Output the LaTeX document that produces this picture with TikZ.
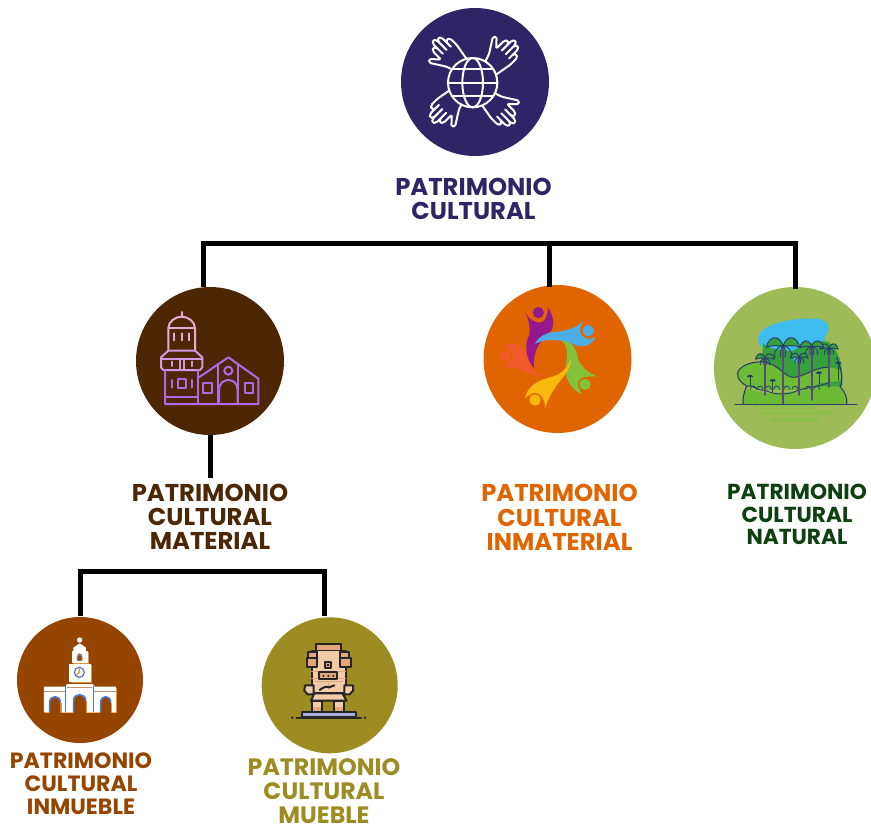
\documentclass[tikz,border=0pt]{standalone}
\usepackage{fontspec}
\setmainfont{Poppins}
\definecolor{cTop}{HTML}{2F2466}
\definecolor{cMat}{HTML}{4D2604}
\definecolor{cInm}{HTML}{E06500}
\definecolor{cNat}{HTML}{9FBB58}
\definecolor{cNatT}{HTML}{0F4010}
\definecolor{cInb}{HTML}{964500}
\definecolor{cMue}{HTML}{9C8C22}
\definecolor{bPink}{HTML}{EBAAD6}
\definecolor{bMid}{HTML}{D596E6}
\definecolor{bPur}{HTML}{B268EA}
\definecolor{navy}{HTML}{2B3F6B}
\definecolor{skin}{HTML}{F2CBA8}
\definecolor{skinD}{HTML}{E3A67C}
\definecolor{pPur}{HTML}{95198D}
\definecolor{pBlu}{HTML}{4CAEE6}
\definecolor{pGre}{HTML}{83C13B}
\definecolor{pYel}{HTML}{FBB90F}
\definecolor{pRed}{HTML}{F15A2A}
\definecolor{nLake}{HTML}{3DBDF0}
\definecolor{nDark}{HTML}{35A03C}
\definecolor{nLight}{HTML}{6DBB35}
\definecolor{nGround}{HTML}{8CC04A}
\definecolor{nTrunk}{HTML}{5A4A78}
\definecolor{shB}{HTML}{4E78C8}
\definecolor{shO}{HTML}{E8913A}
\tikzset{
 x=1pt,y=-1pt,
 disc/.style={circle,inner sep=0pt,minimum size=#1,draw=none},
 lab/.style={align=center,font=\fontsize{#1}{#1}\selectfont\bfseries,inner sep=0pt,anchor=center},
 conn/.style={draw=black,line width=5pt,line cap=butt,line join=miter},
 icon/.style={line cap=round,line join=round},
 handln/.style={icon,draw=white,line width=2pt},
 bld/.style={icon,line width=2pt},
}
\newcommand{\handshape}{%
 \draw[handln,rounded corners=1.5pt] (24,18) -- (34,-38) -- (34,-66) -- (26,-74) -- (18,-66) -- (18,-44)
 -- (18,-86) -- (10,-95) -- (2,-86) -- (2,-46) -- (2,-92) -- (-6,-101) -- (-14,-92) -- (-14,-46)
 -- (-14,-76) -- (-22,-85) -- (-30,-76) -- (-30,-42) -- (-54,-68) -- (-62,-60) -- (-34,-16) -- (-24,14);
}
\newcommand{\palmtree}[4]{% x, y top, y bottom, size
 \draw[draw=nTrunk,line width=1.9pt,line cap=round] (#1,#2) -- (#1,#3);
 \draw[icon,draw=navy,line width=1pt,fill=nDark] (#1,#2)
   .. controls (#1-#4*.3,#2-#4*.9) and (#1-#4,#2-#4*.7) .. (#1-#4*1.2,#2+#4*.1)
   .. controls (#1-#4*.8,#2-#4*.1) and (#1-#4*.4,#2) .. (#1,#2)
   .. controls (#1+#4*.4,#2) and (#1+#4*.8,#2-#4*.1) .. (#1+#4*1.2,#2+#4*.1)
   .. controls (#1+#4,#2-#4*.7) and (#1+#4*.3,#2-#4*.9) .. (#1,#2) -- cycle;
 \draw[icon,draw=navy,line width=.9pt] (#1,#2) .. controls (#1-#4*.6,#2+#4*.1) and (#1-#4*.7,#2+#4*.6) .. (#1-#4*.55,#2+#4*.8)
   (#1,#2) .. controls (#1+#4*.6,#2+#4*.1) and (#1+#4*.7,#2+#4*.6) .. (#1+#4*.55,#2+#4*.8)
   (#1,#2) .. controls (#1-#4*.2,#2+#4*.2) and (#1-#4*.2,#2+#4*.6) .. (#1-#4*.15,#2+#4*.8)
   (#1,#2) .. controls (#1+#4*.2,#2+#4*.2) and (#1+#4*.2,#2+#4*.6) .. (#1+#4*.15,#2+#4*.8);
}
\newcommand{\smalltree}[3]{% x, y, bottom
 \draw[navy,line width=.9pt] (#1,#2) -- (#1,#3);
 \fill[navy] (#1-10,#2) .. controls (#1-6,#2-8) and (#1+6,#2-8) .. (#1+10,#2) .. controls (#1+5,#2+3) and (#1-5,#2+3) .. cycle;
}
\begin{document}
\begin{tikzpicture}
\useasboundingbox (0,0) rectangle (871,827);
\fill[white] (0,0) rectangle (871,827);

% discs
\node[disc=148pt,fill=cTop] (top) at (475,82) {};
\node[disc=148pt,fill=cMat] (mat) at (210,361) {};
\node[disc=148pt,fill=cInm] (inm) at (557.5,359) {};
\node[disc=162pt,fill=cNat] (nat) at (795,368) {};
\node[disc=126pt,fill=cInb] (inb) at (80,680) {};
\node[disc=136pt,fill=cMue] (mue) at (329.7,685.3) {};

% labels
\node[lab=24.3,text=cTop] (topT) at (473.5,199) {PATRIMONIO\\[-.3pt]CULTURAL};
\node[lab=24.3,text=cMat] (matT) at (210,517) {PATRIMONIO\\[-.3pt]CULTURAL\\[-.3pt]MATERIAL};
\node[lab=24.3,text=cInm] (inmT) at (559.5,517.5) {PATRIMONIO\\[-.1pt]CULTURAL\\[-.1pt]INMATERIAL};
\node[lab=21.7,text=cNatT] (natT) at (797,514.5) {PATRIMONIO\\[.8pt]CULTURAL\\[.8pt]NATURAL};
\node[lab=22.1,text=cInb] (inbT) at (81,784) {PATRIMONIO\\[.9pt]CULTURAL\\[.9pt]INMUEBLE};
\node[lab=23.7,text=cMue] (mueT) at (324,791) {PATRIMONIO\\[.6pt]CULTURAL\\[.6pt]MUEBLE};

% connectors
\coordinate (busL) at (203,243);
\coordinate (busM) at (549,243);
\coordinate (busR) at (795,243);
\coordinate (matIn) at (203,287);
\coordinate (inmIn) at (549,287);
\coordinate (natIn) at (795,289);
\coordinate (matOut) at (210,435);
\coordinate (matOutE) at (210,478);
\coordinate (subL) at (80,571);
\coordinate (subR) at (324,571);
\coordinate (inbIn) at (80,616);
\coordinate (mueIn) at (324,616);
\draw[conn] (matIn) -- (busL) -- (busR) -- (natIn);
\draw[conn] (busM) -- (inmIn);
\draw[conn] (matOut) -- (matOutE);
\draw[conn] (inbIn) -- (subL) -- (subR) -- (mueIn);

% ---- globe and hands
\begin{scope}[shift={(390,0)},scale=1/3]
 \foreach \a in {0,90,180,270}{
  \begin{scope}[rotate around={\a:(252,245)}]
   \begin{scope}[shift={(204,187)},rotate=45]
    \handshape
   \end{scope}
  \end{scope}
 }
 \fill[cTop] (248,248) circle (76);
 \draw[handln] (248,248) circle (74);
 \draw[handln] (248,248) ellipse (31 and 74);
 \draw[handln] (174,248) -- (322,248);
 \draw[handln] (187,208) -- (309,208) (187,288) -- (309,288);
\end{scope}

% ---- church
\begin{scope}[shift={(125,280)},scale=1/3]
 \draw[bld,draw=bPink] (170,96) -- (170,110);
 \draw[bld,draw=bPink] (130,212) -- (130,145) .. controls (130,125) and (150,110) .. (170,110) .. controls (190,110) and (210,125) .. (210,145) -- (210,212);
 \draw[bld,draw=bPink] (130,145) -- (210,145);
 \draw[bld,draw=bPink] (146,160) -- (146,181) (170,160) -- (170,181) (193,160) -- (193,181);
 \draw[bld,draw=bMid] (130,212) -- (210,212) -- (232,232) -- (232,262) -- (225,270) -- (115,270) -- (108,262) -- (108,232) -- cycle;
 \draw[bld,draw=bMid] (108,238) -- (232,238);
 \draw[bld,draw=bMid] (140,245) -- (140,258) (164,240) -- (164,268) (177,240) -- (177,268) (200,245) -- (200,258);
 \draw[bld,draw=bPur] (120,270) -- (120,372) -- (400,372) -- (400,296) -- (310,232) -- (222,292);
 \draw[bld,draw=bPur] (219,270) -- (219,372) (120,350) -- (219,350);
 \draw[bld,draw=bPur] (158,298) rectangle (183,325);
 \draw[bld,draw=bPur] (140,300) -- (140,323) (200,300) -- (200,323);
 \draw[bld,draw=bPur] (280,252) -- (280,372) (339,252) -- (339,372);
 \draw[bld,draw=bPur] (310,272) circle (12);
 \draw[bld,draw=bPur] (282,372) -- (282,330) .. controls (282,290) and (338,290) .. (338,330) -- (338,372);
 \draw[bld,draw=bPur] (235,310) rectangle (260,340);
 \draw[bld,draw=bPur] (360,310) rectangle (385,340);
\end{scope}

% ---- people
\begin{scope}[shift={(475,280)},scale=1/3]
 \fill[pRed] (212,290) .. controls (170,290) and (125,250) .. (75,265) .. controls (105,255) and (128,225) .. (88,195)
   .. controls (135,182) and (152,205) .. (165,255) .. controls (175,272) and (195,285) .. (212,290) -- cycle;
 \fill[cInm] (92,227) circle (21);
 \fill[pRed] (92,227) circle (16);
 % purple
 \fill[pPur] (150,97) .. controls (165,125) and (200,140) .. (212,115) .. controls (218,105) and (218,95) .. (218,82)
   .. controls (235,105) and (240,135) .. (228,152) .. controls (205,175) and (170,205) .. (178,265)
   .. controls (148,235) and (150,185) .. (163,165) .. controls (166,135) and (160,115) .. (150,97) -- cycle;
 \fill[pPur] (190,98) circle (17);
 % green
 \fill[pGre] (250,175) .. controls (290,178) and (305,205) .. (310,240) .. controls (322,265) and (345,280) .. (367,290)
   .. controls (330,285) and (295,295) .. (320,342) .. controls (285,330) and (262,285) .. (275,240) .. controls (280,205) and (270,185) .. (250,175) -- cycle;
 \fill[cInm] (330,313) circle (21);
 \fill[pGre] (330,313) circle (17);
 % yellow
 \fill[pYel] (288,235) .. controls (292,280) and (235,305) .. (210,385) .. controls (212,345) and (180,325) .. (150,355)
   .. controls (155,320) and (190,300) .. (225,292) .. controls (255,285) and (280,265) .. (288,235) -- cycle;
 \fill[cInm] (180,360) circle (21);
 \fill[pYel] (180,360) circle (17);
 % blue
 \fill[pBlu] (330,112) .. controls (320,140) and (280,150) .. (250,155) .. controls (215,155) and (190,170) .. (180,192)
   .. controls (205,176) and (245,178) .. (285,187) .. controls (315,207) and (345,202) .. (362,172)
   .. controls (340,182) and (315,175) .. (315,150) .. controls (315,135) and (325,125) .. (330,112) -- cycle;
 \fill[cInm] (340,152) circle (21);
 \fill[pBlu] (340,152) circle (17);
\end{scope}

% ---- nature
\begin{scope}[shift={(705,280)},scale=1/3]
 \foreach \px/\py/\w in {240/380/190,275/398/215,270/418/150}{
  \fill[nGround,rounded corners=1.5pt] (\px-\w/2,\py-5) rectangle (\px+\w/2,\py+6);
 }
 \fill[nLake] (160,170) .. controls (170,130) and (270,112) .. (335,116) .. controls (375,120) and (378,150) .. (360,170)
   .. controls (355,190) and (370,200) .. (375,220) -- (200,225) .. controls (170,205) and (155,190) .. (160,170) -- cycle;
 \fill[nDark] (175,190) .. controls (195,215) and (240,205) .. (260,215) .. controls (290,195) and (340,180) .. (370,185)
   .. controls (390,205) and (410,225) .. (412,290) -- (412,320) -- (125,320) -- (170,240) -- cycle;
 \fill[nLake] (262,232) -- (282,218) -- (275,250) -- cycle;
 \fill[nLight] (98,280) .. controls (105,255) and (150,240) .. (190,250) .. controls (230,262) and (245,290) .. (265,290)
   .. controls (300,290) and (330,260) .. (370,262) .. controls (395,265) and (412,265) .. (412,290) .. controls (412,305) and (385,305) .. (345,310)
   -- (300,330) -- (180,330) -- (125,318) .. controls (105,305) and (95,295) .. (98,280) -- cycle;
 \fill[nLight] (125,325) .. controls (115,345) and (112,360) .. (115,372) -- (425,372) .. controls (425,345) and (410,335) .. (405,320) -- (340,320) -- (270,335) -- (180,340) -- cycle;
 \draw[icon,draw=navy,line width=1.1pt] (175,245) .. controls (130,245) and (100,262) .. (98,280) .. controls (95,295) and (110,310) .. (125,318) .. controls (115,340) and (112,360) .. (115,372);
 \draw[icon,draw=navy,line width=1.1pt] (175,245) .. controls (225,255) and (240,292) .. (265,292) .. controls (300,290) and (325,262) .. (370,262);
 \draw[icon,draw=navy,line width=1.1pt] (395,232) .. controls (410,270) and (415,300) .. (405,320) .. controls (420,335) and (428,355) .. (425,372);
 \draw[icon,draw=navy,line width=1pt] (125,318) .. controls (145,312) and (155,335) .. (180,330) .. controls (205,345) and (245,345) .. (270,335) .. controls (300,320) and (340,325) .. (375,305);
 \foreach \sx in {145,165,190,215,245,270,310,335}{
  \draw[icon,draw=navy,line width=.8pt] (\sx-9,328) .. controls (\sx-8,315) and (\sx+8,315) .. (\sx+9,328);
 }
 \smalltree{135}{290}{322}
 \smalltree{203}{303}{335}
 \smalltree{342}{280}{312}
 \smalltree{400}{250}{300}
 \palmtree{180}{235}{345}{24}
 \palmtree{283}{232}{345}{22}
 \palmtree{372}{205}{320}{23}
 \palmtree{320}{200}{360}{30}
 \palmtree{234}{198}{372}{42}
 \draw[draw=navy,line width=1.5pt,line cap=round] (90,373) -- (455,373);
\end{scope}

% ---- inmueble building
\begin{scope}[shift={(10,610)},scale=1/3]
 \fill[shO] (105,233) -- (321,233) -- (321,310) -- (105,310) -- cycle;
 \fill[white] (102,230) -- (165,230) -- (172,222) -- (248,222) -- (255,230) -- (318,230) -- (318,307) -- (102,307) -- cycle;
 \draw[shB,line width=1pt] (166,228) -- (166,307) (252,228) -- (252,307);
 \draw[cInb!60,line width=.5pt] (102,245) -- (166,245) (252,245) -- (318,245) (172,232) -- (246,232);
 \foreach \ax/\aw/\atop in {135/17/278,209/19/272,287/16/278}{
  \fill[cInb] (\ax-\aw,310) -- (\ax-\aw,\atop) .. controls (\ax-\aw,\atop-24) and (\ax+\aw,\atop-24) .. (\ax+\aw,\atop) -- (\ax+\aw,310) -- cycle;
  \draw[shB,line width=1.6pt] (\ax-\aw+1,308) -- (\ax-\aw+1,\atop) .. controls (\ax-\aw+1,\atop-24) and (\ax+\aw-1,\atop-24) .. (\ax+\aw-1,\atop);
  \draw[shO,line width=1pt] (\ax+\aw+3,309) -- (\ax+\aw+3,\atop);
 }
 \fill[shO] (182,165) rectangle (246,218);
 \fill[white] (178,162) rectangle (242,215);
 \fill[shO] (188,126) rectangle (237,162);
 \fill[white] (185,123) rectangle (234,160);
 \fill[white] (190,123) -- (190,113) -- (209,100) -- (228,113) -- (228,123) -- cycle;
 \fill[white] (209,90) circle (8);
 \fill[shO] (200,152) -- (200,140) .. controls (200,126) and (218,126) .. (218,140) -- (218,152) -- cycle;
 \fill[cInb] (203,152) -- (203,142) .. controls (203,132) and (215,132) .. (215,142) -- (215,152) -- cycle;
 \draw[shB,line width=1pt] (203,150) -- (203,142) .. controls (203,132) and (215,132) .. (215,142);
 \draw[shB,line width=1.2pt] (208,187) circle (15);
 \draw[shO,line width=1.2pt] (208,175) -- (208,187) -- (199,196);
\end{scope}

% ---- totem
\begin{scope}[shift={(255,610)},scale=1/3]
 \tikzset{tot/.style={icon,draw=black!85,line width=2pt}}
 \fill[skin] (172,272) rectangle (202,305);
 \fill[skin] (237,272) rectangle (268,305);
 \fill[skinD] (172,292) rectangle (202,305) (237,292) rectangle (268,305);
 \draw[tot] (172,272) rectangle (202,305) (237,272) rectangle (268,305);
 \draw[tot,fill=gray!55!blue!45] (140,306) rectangle (302,322);
 \draw[tot] (125,323) -- (318,323);
 \fill[black!85] (112,323) circle (4) (330,323) circle (4);
 \draw[tot,fill=skin] (178,250) -- (262,250) -- (275,272) -- (168,272) -- cycle;
 \draw[tot,fill=skin] (170,122) rectangle (272,250);
 \draw[icon,draw=skinD,line width=1pt] (170,185) -- (192,185) (170,205) -- (192,205) (250,185) -- (272,185) (250,205) -- (272,205) (180,215) -- (262,215) (220,215) -- (220,235);
 \draw[tot,fill=skinD] (183,102) rectangle (258,122);
 \fill[skin] (190,124) rectangle (252,150);
 \draw[tot,fill=skinD] (160,125) rectangle (186,145);
 \draw[tot,fill=skinD] (155,145) rectangle (186,170);
 \draw[tot,fill=skinD] (256,125) rectangle (282,145);
 \draw[tot,fill=skinD] (256,145) rectangle (288,170);
 \draw[tot,fill=skinD] (210,157) rectangle (228,175);
 \fill[black!85] (216,163) rectangle (222,169);
 \draw[tot,fill=skinD] (192,187) rectangle (247,208);
 \fill[black!85] (205,197.5) circle (3.5) (220,197.5) circle (3.5) (235,197.5) circle (3.5);
 \draw[tot,fill=skin] (150,226) -- (176,226) -- (176,253) -- (158,253) -- (148,242) -- cycle;
 \draw[tot,fill=skin] (268,226) -- (294,226) -- (294,242) -- (284,253) -- (268,253) -- cycle;
 \draw[tot] (194,240) .. controls (205,232) and (212,228) .. (222,232) -- (238,226);
\end{scope}
\end{tikzpicture}
\end{document}
